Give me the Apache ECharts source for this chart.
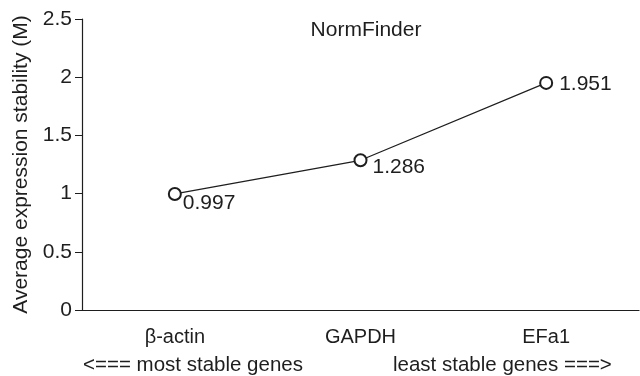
<!DOCTYPE html>
<html><head><meta charset="utf-8">
<script src="https://cdn.jsdelivr.net/npm/echarts@6/dist/echarts.min.js"></script>
<style>html,body{margin:0;padding:0;background:#fff}#c{width:640px;height:376px}</style>
</head><body><div id="c"></div>
<script>
const categories = ['β-actin', 'GAPDH', 'EFa1'];
const values = [0.997, 1.286, 1.951];
const labelTexts = ['0.997', '1.286', '1.951'];
const yTicks = [0, 0.5, 1, 1.5, 2, 2.5];
const bottomNotes = ['<=== most stable genes', 'least stable genes ===>'];

const FONT = '"Liberation Sans", Arial, sans-serif';
const INK = '#1e1e1e';
const chart = echarts.init(document.getElementById('c'), null, {renderer: 'canvas'});
const labelOffsets = [[0, 9], [4, 7], [5, 1]];
chart.setOption({
  animation: false,
  title: {text: 'NormFinder', left: 361, top: 15, textAlign: 'center',
    textStyle: {fontFamily: FONT, fontSize: 21, fontWeight: 'normal', color: INK}},
  grid: {left: 82, right: 1, top: 19, bottom: 66},
  xAxis: {
    type: 'category', data: categories, boundaryGap: true,
    axisLine: {lineStyle: {color: INK, width: 1.2}},
    axisTick: {alignWithLabel: true, length: 5, lineStyle: {color: INK}},
    axisLabel: {fontFamily: FONT, fontSize: 20, color: INK, margin: 17}
  },
  yAxis: {
    type: 'value', min: yTicks[0], max: yTicks[yTicks.length - 1], interval: 0.5,
    name: 'Average expression stability (M)', nameLocation: 'middle', nameGap: 50,
    nameTextStyle: {fontFamily: FONT, fontSize: 21, color: INK},
    axisLine: {show: true, lineStyle: {color: INK, width: 1.2}},
    axisTick: {show: true, length: 7, lineStyle: {color: INK}},
    splitLine: {show: false},
    axisLabel: {fontFamily: FONT, fontSize: 21, color: INK, margin: 10,
      formatter: v => String(v)}
  },
  series: [{
    type: 'line',
    data: values.map((v, i) => ({value: v, label: {offset: labelOffsets[i]}})),
    symbol: 'emptyCircle', symbolSize: 12,
    lineStyle: {color: INK, width: 1.2},
    itemStyle: {color: INK, borderColor: INK, borderWidth: 1.2},
    label: {show: true, position: 'right', distance: 1,
      formatter: p => labelTexts[p.dataIndex],
      fontFamily: FONT, fontSize: 21, color: INK}
  }],
  graphic: [
    {type: 'text', left: 83, top: 355, style: {text: bottomNotes[0], font: '20.5px ' + FONT, fill: INK}},
    {type: 'text', left: 393, top: 355, style: {text: bottomNotes[1], font: '20.5px ' + FONT, fill: INK}}
  ]
});
</script></body></html>
